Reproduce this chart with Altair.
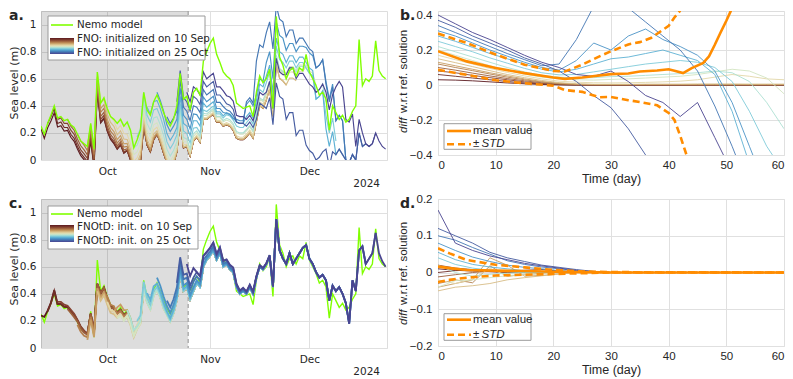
import altair as alt
import pandas as pd

# ---------------- data ----------------
start_date = "2024-09-11"
shade_end = "2024-10-25T10:00:00"

# Nemo model sea level, daily from 11 Sep 2024
nemo = [0.25, 0.19, 0.27, 0.33, 0.40, 0.31, 0.32, 0.29, 0.30, 0.26,
        0.24, 0.19, 0.14, 0.12, 0.10, 0.27, 0.08, 0.65, 0.42, 0.46,
        0.38, 0.32, 0.30, 0.27, 0.30, 0.25, 0.28, 0.22, 0.09, 0.15,
        0.22, 0.50, 0.37, 0.33, 0.43, 0.48, 0.42, 0.35, 0.29, 0.25,
        0.30, 0.40, 0.64, 0.45, 0.47, 0.37, 0.50, 0.53, 0.48, 0.73,
        0.80, 0.86, 0.90, 0.78, 0.72, 0.65, 0.62, 0.60, 0.55, 0.42,
        0.40, 0.38, 0.39, 0.40, 0.32, 0.50, 0.62, 0.57, 0.60, 0.67,
        0.38, 1.06, 0.76, 0.70, 0.60, 0.66, 0.68, 0.62, 0.68, 0.66,
        0.78, 0.65, 0.60, 0.55, 0.48, 0.50, 0.45, 0.22, 0.40, 0.35,
        0.30, 0.33, 0.28, 0.30, 0.36, 0.40, 0.89, 0.55, 0.60, 0.58,
        0.62, 0.88, 0.66, 0.62, 0.60]

# FNO reference solution (converged trajectory), daily
fno_ref = [0.20, 0.13, 0.21, 0.26, 0.32, 0.22, 0.23, 0.19, 0.20, 0.15,
           0.12, 0.07, 0.02, -0.01, -0.03, 0.13, -0.06, 0.50, 0.27, 0.30,
           0.21, 0.15, 0.12, 0.08, 0.11, 0.05, 0.07, 0.00, -0.13, -0.08,
           -0.02, 0.25, 0.11, 0.06, 0.15, 0.19, 0.13, 0.05, -0.02, -0.07,
           -0.03, 0.06, 0.29, 0.09, 0.10, 0.03, 0.14, 0.17, 0.13, 0.30,
           0.30, 0.32, 0.34, 0.28, 0.28, 0.25, 0.26, 0.25, 0.22, 0.16,
           0.15, 0.15, 0.17, 0.20, 0.16, 0.28, 0.40, 0.38, 0.44, 0.52,
           0.32, 0.70, 0.60, 0.58, 0.55, 0.60, 0.60, 0.58, 0.62, 0.62,
           0.66, 0.62, 0.60, 0.60, 0.62, 0.66, 0.68, 0.55, 0.66, 0.64,
           0.68, 0.64, 0.60, 0.58, 0.64, 0.60, 0.80, 0.70, 0.72, 0.70,
           0.72, 0.80, 0.74, 0.70, 0.68]

# FNOtD reference solution, daily
fnotd_ref = [0.23, 0.22, 0.27, 0.33, 0.42, 0.32, 0.32, 0.30, 0.30, 0.27,
             0.24, 0.20, 0.15, 0.12, 0.10, 0.25, 0.12, 0.47, 0.40, 0.44,
             0.36, 0.30, 0.29, 0.26, 0.28, 0.24, 0.26, 0.20, 0.11, 0.16,
             0.20, 0.45, 0.35, 0.30, 0.40, 0.44, 0.38, 0.30, 0.25, 0.20,
             0.26, 0.36, 0.55, 0.42, 0.45, 0.36, 0.42, 0.48, 0.45, 0.60,
             0.65, 0.68, 0.72, 0.65, 0.70, 0.60, 0.62, 0.58, 0.56, 0.45,
             0.40, 0.42, 0.40, 0.45, 0.40, 0.52, 0.60, 0.58, 0.62, 0.68,
             0.45, 0.95, 0.72, 0.66, 0.62, 0.70, 0.62, 0.66, 0.70, 0.74,
             0.76, 0.66, 0.62, 0.56, 0.52, 0.54, 0.50, 0.35, 0.46, 0.42,
             0.45, 0.40, 0.33, 0.18, 0.50, 0.42, 0.72, 0.75, 0.62, 0.66,
             0.70, 0.85, 0.70, 0.64, 0.60]

# ensemble members: start day index (0 = 11 Sep), colours 10 Sep -> 25 Oct
member_start = [-1, 2, 5, 8, 11, 14, 17, 20, 23, 26, 29, 32, 35, 38, 41, 44]
member_colors = ["#5b1a1f", "#6f2d28", "#864431", "#9c5f3b", "#b47e4c", "#c79d63",
                 "#d7bd86", "#e2d7a8", "#d3e4c2", "#ade0d3", "#80cbd9", "#5eb1d4",
                 "#4b93c6", "#4477b4", "#465ca1", "#4a4590"]
knot_days = [0, 3, 6, 9, 12, 15, 18, 21, 24, 27, 30, 33, 36, 39, 42, 45, 48, 51, 54, 57, 60]

# diff w.r.t. ref solution (panel b), one row per member, at knot_days
fno_diff = [
    [0.03, 0.028, 0.024, 0.018, 0.012, 0.007, 0.003, 0.001, 0, 0, 0, 0, 0, 0, 0, 0, 0, 0, 0, 0, 0],
    [0.06, 0.05, 0.04, 0.03, 0.02, 0.012, 0.006, 0.002, 0, 0, 0, 0, 0, 0, 0, 0, 0, 0, 0, 0, 0],
    [0.08, 0.07, 0.055, 0.042, 0.03, 0.018, 0.009, 0.003, 0.001, 0, 0, 0, 0, 0, 0, 0, 0, 0, 0, 0, 0],
    [0.1, 0.085, 0.068, 0.052, 0.037, 0.024, 0.013, 0.005, 0.002, 0.001, 0.001, 0.001, 0.001, 0.001, 0.001, 0.001, 0.001, 0.001, 0.001, 0.001, 0.001],
    [0.12, 0.1, 0.082, 0.063, 0.045, 0.03, 0.017, 0.008, 0.003, 0.002, 0.002, 0.002, 0.002, 0.002, 0.002, 0.002, 0.002, 0.002, 0.002, 0.002, 0.002],
    [0.13, 0.11, 0.09, 0.07, 0.052, 0.035, 0.02, 0.01, 0.005, 0.003, 0.003, 0.003, 0.003, 0.003, 0.003, 0.003, 0.003, 0.003, 0.003, 0.003, 0.003],
    [0.15, 0.128, 0.105, 0.082, 0.06, 0.042, 0.026, 0.014, 0.007, 0.004, 0.004, 0.004, 0.005, 0.005, 0.005, 0.006, 0.006, 0.006, 0.005, 0.005, 0.005],
    [0.17, 0.145, 0.12, 0.095, 0.072, 0.052, 0.035, 0.022, 0.016, 0.013, 0.012, 0.013, 0.015, 0.018, 0.022, 0.03, 0.045, 0.06, 0.05, 0.035, 0.03],
    [0.2, 0.17, 0.14, 0.11, 0.085, 0.062, 0.045, 0.035, 0.03, 0.028, 0.032, 0.035, 0.04, 0.045, 0.05, 0.06, 0.075, 0.09, 0.08, 0.04, -0.05],
    [0.22, 0.19, 0.16, 0.13, 0.1, 0.075, 0.055, 0.045, 0.04, 0.042, 0.048, 0.05, 0.055, 0.06, 0.065, 0.07, 0.08, 0.07, 0.02, -0.1, -0.25],
    [0.25, 0.22, 0.19, 0.155, 0.125, 0.095, 0.07, 0.058, 0.06, 0.075, 0.09, 0.105, 0.12, 0.13, 0.14, 0.13, 0.1, 0.02, -0.15, -0.35, -0.5],
    [0.28, 0.25, 0.215, 0.18, 0.15, 0.12, 0.09, 0.075, 0.09, 0.12, 0.15, 0.16, 0.18, 0.2, 0.17, 0.14, 0.06, -0.15, -0.45, -0.6, -0.6],
    [0.31, 0.28, 0.24, 0.2, 0.165, 0.13, 0.1, 0.085, 0.14, 0.24, 0.2, 0.28, 0.32, 0.26, 0.22, 0.17, 0.08, -0.1, -0.35, -0.6, -0.6],
    [0.34, 0.3, 0.26, 0.22, 0.18, 0.145, 0.11, 0.12, 0.26, 0.45, 0.5, 0.44, 0.36, 0.28, 0.2, 0.08, -0.12, -0.35, -0.6, -0.6, -0.6],
    [0.37, 0.33, 0.28, 0.24, 0.2, 0.155, 0.12, 0.08, 0.02, -0.06, -0.13, -0.25, -0.4, -0.55, -0.6, -0.6, -0.6, -0.6, -0.6, -0.6, -0.6],
    [0.4, 0.35, 0.3, 0.26, 0.215, 0.17, 0.13, 0.1, 0.06, 0.05, 0.08, 0.02, -0.06, -0.1, -0.18, -0.1, -0.3, -0.5, -0.6, -0.6, -0.6],
]

# diff w.r.t. ref solution (panel d), leading knots (later knots are 0)
fnotd_diff = [
    [0.01, 0.006, 0.004, 0.002],
    [0.0, 0.005, 0.007, 0.005, 0.003, 0.006, 0.008, 0.004, 0.002],
    [0.02, 0.012, 0.008, 0.005, 0.003, 0.002],
    [-0.012, -0.006, 0.0, 0.003, 0.001],
    [-0.03, -0.02, -0.028, 0.018, -0.01, -0.005, -0.002],
    [-0.04, -0.03, -0.02, 0.04, 0.02, -0.01, -0.008, -0.004],
    [-0.05, -0.04, -0.036, -0.03, -0.02, -0.014, -0.009, -0.004],
    [-0.02, -0.03, -0.018, 0.012, -0.01, -0.007, -0.004],
    [-0.04, -0.022, -0.02, -0.014, -0.009, -0.004],
    [0.02, 0.0, -0.01, -0.005, -0.002],
    [0.04, 0.022, 0.012, 0.006, 0.003],
    [0.055, 0.035, 0.022, 0.015, 0.01, 0.005, 0.003],
    [0.08, 0.06, 0.042, 0.03, 0.02, 0.014, 0.01, 0.005, 0.002],
    [0.1, 0.088, 0.068, 0.05, 0.032, 0.022, 0.015, 0.01, 0.005, 0.002],
    [0.12, 0.1, 0.08, 0.055, 0.04, 0.03, 0.02, 0.014, 0.008, 0.003],
    [0.17, 0.08, 0.06, 0.045, 0.035, 0.025, 0.018, 0.012, 0.006, 0.002],
]

# panel b statistics
b_mean_day = [0, 5, 10, 15, 20, 22, 25, 30, 33, 35, 38, 40, 41, 42.5, 44, 46, 47, 48, 49, 50, 50.8]
b_mean = [0.193, 0.135, 0.097, 0.068, 0.043, 0.035, 0.043, 0.062, 0.066, 0.077, 0.083, 0.09, 0.082,
          0.068, 0.097, 0.126, 0.164, 0.23, 0.3, 0.367, 0.425]
b_up_day = [0, 5, 10, 15, 20, 22, 25, 28, 30, 33, 35, 37, 40, 41, 42]
b_up = [0.294, 0.24, 0.174, 0.116, 0.081, 0.077, 0.116, 0.164, 0.193, 0.232, 0.245, 0.27, 0.338, 0.386, 0.425]
b_lo_day = [0, 5, 10, 15, 20, 22, 25, 28, 30, 33, 35, 38, 40, 41, 42, 43.3]
b_lo = [0.087, 0.058, 0.027, 0.01, -0.004, -0.029, -0.039, -0.07, -0.068, -0.087, -0.097, -0.116,
        -0.16, -0.2, -0.29, -0.42]
# panel d statistics
d_day = [0, 2, 5, 10, 15, 20, 25, 30, 60]
d_mean = [0.016, 0.012, 0.007, 0.005, 0.004, 0.002, 0.001, 0.0, 0.0]
d_up = [0.066, 0.052, 0.034, 0.021, 0.014, 0.007, 0.003, 0.001, 0.0]
d_lo = [-0.026, -0.02, -0.014, -0.008, -0.006, -0.004, -0.002, 0.0, 0.0]

# ---------------- styling ----------------
GREEN = "#80ff00"
ORANGE = "#ff8c00"
FA = "DejaVu Sans"
FB = "Liberation Sans"
TXT = "#262626"
GRID = "#e0e0e0"
W = 346
HA, HB, HC, HD = 149, 144, 149, 147

dates = pd.date_range(start_date, periods=len(nemo), freq="D")
names = [f"m{i:02d}" for i in range(len(member_start))]
color_enc = alt.Color("m:N", scale=alt.Scale(domain=names, range=member_colors), legend=None)
one = pd.DataFrame({"z": [0]})


def member_frame(ref, diffs):
    rows = []
    for i, s in enumerate(member_start):
        dl = list(diffs[i]) + [0.0] * (len(knot_days) - len(diffs[i]))
        for k in range(61):
            d = s + k
            if 0 <= d < len(ref):
                rows.append({"date": dates[d], "v": ref[d] + dl[k // 3], "m": names[i]})
    return pd.DataFrame(rows)


def diff_frame(diffs):
    rows = []
    for i in range(len(member_start)):
        dl = list(diffs[i]) + [0.0] * (len(knot_days) - len(diffs[i]))
        for j, day in enumerate(knot_days):
            rows.append({"day": day, "v": dl[j], "m": names[i]})
    return pd.DataFrame(rows)


def txt(x, y, s, font, size, **kw):
    return alt.Chart(one).mark_text(font=font, fontSize=size, color=kw.pop("color", TXT),
                                    baseline=kw.pop("baseline", "middle"),
                                    align=kw.pop("align", "left"), **kw).encode(
        x=alt.value(x), y=alt.value(y), text=alt.value(s))


def box(x, x2, y, y2):
    return alt.Chart(one).mark_rect(fill="white", stroke="#9a9a9a", strokeWidth=1).encode(
        x=alt.value(x), x2=alt.value(x2), y=alt.value(y), y2=alt.value(y2))


def seg(x, x2, y, color, width, dash=None):
    kw = {"strokeDash": dash} if dash else {}
    return alt.Chart(one).mark_rule(color=color, strokeWidth=width, **kw).encode(
        x=alt.value(x), x2=alt.value(x2), y=alt.value(y))


def swatch(x, x2, y, y2):
    n = len(member_colors)
    grad = alt.LinearGradient(gradient="linear", x1=0, x2=0, y1=0, y2=1,
                              stops=[alt.GradientStop(offset=i / (n - 1), color=c)
                                     for i, c in enumerate(member_colors)])
    return alt.Chart(one).mark_rect(fill=grad).encode(
        x=alt.value(x), x2=alt.value(x2), y=alt.value(y), y2=alt.value(y2))


TIME_SCALE = alt.Scale(domain=[alt.DateTime(year=2024, month=9, date=11),
                               alt.DateTime(year=2024, month=12, date=24, hours=10)], nice=False)
TIME_AXIS = alt.Axis(values=[alt.DateTime(year=2024, month=10, date=1),
                             alt.DateTime(year=2024, month=11, date=1),
                             alt.DateTime(year=2024, month=12, date=1)],
                     format="%b", title=None, grid=True, gridColor=GRID, ticks=False,
                     domain=False, labelFont=FA, labelFontSize=10.5, labelColor=TXT,
                     labelPadding=6)


def time_x():
    return alt.X("date:T", scale=TIME_SCALE, axis=TIME_AXIS)


def level_y():
    return alt.Y("v:Q", scale=alt.Scale(domain=[0, 1.1], nice=False),
                 axis=alt.Axis(values=[0, 0.2, 0.4, 0.6, 0.8, 1], format="~g", title=None,
                               grid=True, gridColor=GRID, ticks=False, domain=False,
                               labelFont=FA, labelFontSize=10.5, labelColor=TXT, labelPadding=5))


def day_x():
    return alt.X("day:Q", scale=alt.Scale(domain=[0, 60], nice=False),
                 axis=alt.Axis(values=[0, 10, 20, 30, 40, 50, 60], title="Time (day)",
                               titleFont=FB, titleFontSize=12.5, titleFontWeight="normal",
                               titleColor=TXT, titlePadding=2, grid=True, gridColor=GRID,
                               ticks=False, domain=False, labelFont=FB, labelFontSize=11.5,
                               labelColor=TXT, labelPadding=4))


def diff_y(dom, vals):
    return alt.Y("v:Q", scale=alt.Scale(domain=dom, nice=False),
                 axis=alt.Axis(values=vals, format="~g", title=None, grid=True, gridColor=GRID,
                               ticks=False, domain=False, labelFont=FB, labelFontSize=11.5,
                               labelColor=TXT, labelPadding=6))


shade_df = pd.DataFrame({"date": [dates[0]], "date2": [pd.Timestamp(shade_end)]})
bound_df = pd.DataFrame({"date": [pd.Timestamp(shade_end)]})
nemo_df = pd.DataFrame({"date": dates, "v": nemo})


def time_panel(label, members_df, member_width, nemo_on_top, leg_lines, leg_y, box_y, title_y,
               year_y, H):
    x = time_x()
    y = level_y()
    shade = alt.Chart(shade_df).mark_rect(color="black", opacity=0.135).encode(
        x=x, x2="date2:T", y=alt.value(0), y2=alt.value(H))
    boundary = alt.Chart(bound_df).mark_rule(color="#a5a5a5", strokeDash=[4, 3],
                                             strokeWidth=1.3).encode(x=x)
    members = alt.Chart(members_df).mark_line(strokeWidth=member_width, clip=True).encode(
        x=x, y=y, color=color_enc)
    nemo_line = alt.Chart(nemo_df).mark_line(color=GREEN, strokeWidth=1.4, clip=True).encode(x=x, y=y)
    data_layers = [members, nemo_line] if nemo_on_top else [nemo_line, members]
    legend = [
        box(7, leg_lines[2], box_y[0], box_y[1]),
        seg(10, 32, leg_y[0], GREEN, 1.6),
        txt(36, leg_y[0], "Nemo model", FA, 10.3),
        swatch(9, 33, leg_y[1], leg_y[2]),
        txt(36, leg_y[3], leg_lines[0], FA, 10.3),
        txt(36, leg_y[4], leg_lines[1], FA, 10.3),
    ]
    deco = [
        txt(-32, -2, label, FA, 14, fontWeight="bold", baseline="top"),
        txt(-26, title_y, "Sea level (m)", FA, 11, angle=270, align="center"),
        txt(W - 7, year_y, "2024", FA, 10.5, align="right"),
    ]
    return alt.layer(shade, boundary, *data_layers, *legend, *deco).properties(width=W, height=H)


def diff_panel(label, df, dom, vals, mean_day, mean, up_day, up, lo_day, lo, box_y, line_y, title_y, H):
    x = day_x()
    y = diff_y(dom, vals)
    lines = alt.Chart(df).mark_line(strokeWidth=1.0, clip=True, opacity=0.9).encode(
        x=x, y=y, color=color_enc)
    m = alt.Chart(pd.DataFrame({"day": mean_day, "v": mean})).mark_line(
        color=ORANGE, strokeWidth=2.6, clip=True).encode(x=x, y=y)
    u = alt.Chart(pd.DataFrame({"day": up_day, "v": up})).mark_line(
        color=ORANGE, strokeWidth=2.6, strokeDash=[7, 4], clip=True).encode(x=x, y=y)
    lw = alt.Chart(pd.DataFrame({"day": lo_day, "v": lo})).mark_line(
        color=ORANGE, strokeWidth=2.6, strokeDash=[7, 4], clip=True).encode(x=x, y=y)
    legend = [
        box(6, 93, box_y[0], box_y[1]),
        seg(9, 33, line_y[0], ORANGE, 2.6),
        txt(35, line_y[0], "mean value", FB, 11.5),
        seg(9, 33, line_y[1], ORANGE, 2.6, [7, 4]),
        txt(35, line_y[1], "±", FB, 11.5),
        txt(43.5, line_y[1], "STD", FB, 11.5, fontStyle="italic"),
    ]
    deco = [
        txt(-38, -2, label, FA, 14, fontWeight="bold", baseline="top"),
        txt(-34, title_y, "diff", FB, 11.5, angle=270, fontStyle="italic"),
        txt(-34, title_y - 20, "w.r.t ref. solution", FB, 11.5, angle=270),
    ]
    return alt.layer(lines, m, u, lw, *legend, *deco).properties(width=W, height=H)


panel_a = time_panel("a.", member_frame(fno_ref, fno_diff), 1.15, True,
                     ["FNO: initialized on 10 Sep", "FNO: initialized on 25 Oct", 164],
                     [14, 27, 43, 28, 42], [5, 49], 72, 173, HA)
panel_c = time_panel("c.", member_frame(fnotd_ref, fnotd_diff), 1.8, False,
                     ["FNOtD: init. on 10 Sep", "FNOtD: init. on 25 Oct", 157],
                     [15, 26, 43, 28, 42], [7, 50], 70, 173, HC)
panel_b = diff_panel("b.", diff_frame(fno_diff), [-0.4, 0.423], [-0.4, -0.2, 0, 0.2, 0.4],
                     b_mean_day, b_mean, b_up_day, b_up, b_lo_day, b_lo,
                     [112.7, 138.3], [120, 133.3], 122, HB)
panel_d = diff_panel("d.", diff_frame(fnotd_diff), [-0.2, 0.2], [-0.2, -0.1, 0, 0.1, 0.2],
                     d_day, d_mean, d_day, d_up, d_day, d_lo,
                     [114.7, 141.3], [120.7, 135.7], 126, HD)

chart = alt.vconcat(
    alt.hconcat(panel_a, panel_b, spacing=9),
    alt.hconcat(panel_c, panel_d, spacing=9),
    spacing=2,
).properties(padding=0).configure_view(stroke="#8a8a8a", strokeWidth=1).configure(background="white")

chart.save("out.html", embed_options={"renderer": "svg", "actions": False})
